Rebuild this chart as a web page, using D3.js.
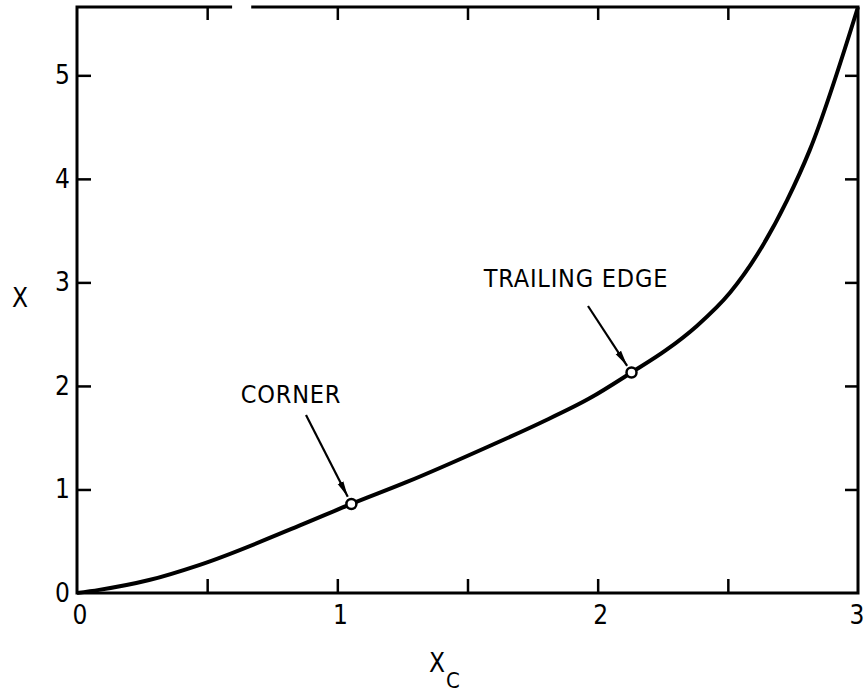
<!DOCTYPE html>
<html>
<head>
<meta charset="utf-8">
<script src="https://cdn.jsdelivr.net/npm/d3@7"></script>
<style>
  html, body { margin: 0; padding: 0; background: #fff; }
  svg text { font-family: "Liberation Sans Narrow", "DejaVu Sans Condensed", "Roboto Condensed", sans-serif; fill: #000; }
</style>
</head>
<body>
<svg id="chart" width="866" height="694"></svg>
<script>
// Curve X versus X_C
const xcValues = [0, 0.085, 0.277, 0.469, 0.854, 1.054, 1.265, 1.585, 1.777, 1.969, 2.13, 2.265, 2.381, 2.508, 2.623, 2.727, 2.815, 3.0];
const xValues  = [0, 0.03, 0.125, 0.27, 0.65, 0.86, 1.07, 1.42, 1.64, 1.88, 2.13, 2.35, 2.58, 2.90, 3.31, 3.79, 4.28, 5.66];

// Marked points on the curve
const markerNames = ["CORNER", "TRAILING EDGE"];
const markerXc = [1.054, 2.13];
const markerX  = [0.86, 2.13];

// Tick values and labels
const xTickValues = [0.5, 1, 1.5, 2, 2.5];
const xTickLabels = [0, 1, 2, 3];
const yTickValues = [1, 2, 3, 4, 5];
const yTickLabels = [0, 1, 2, 3, 4, 5];

const svg = d3.select("#chart");
const plotL = 77, plotR = 858, plotT = 7, plotB = 593;

const x = d3.scaleLinear().domain([0, 3]).range([plotL, plotR]);
const y = d3.scaleLinear().domain([0, 5.66]).range([plotB, plotT]);

const ink = "#000";

// Inward ticks on all four sides
svg.append("g").attr("transform", `translate(0,${plotB})`)
  .call(d3.axisBottom(x).tickValues(xTickValues).tickSize(-14).tickFormat(""))
  .call(g => g.select(".domain").remove());
svg.append("g").attr("transform", `translate(0,${plotT})`)
  .call(d3.axisTop(x).tickValues(xTickValues).tickSize(-13).tickFormat(""))
  .call(g => g.select(".domain").remove());
svg.append("g").attr("transform", `translate(${plotL},0)`)
  .call(d3.axisLeft(y).tickValues(yTickValues).tickSize(-14).tickFormat(""))
  .call(g => g.select(".domain").remove());
svg.append("g").attr("transform", `translate(${plotR},0)`)
  .call(d3.axisRight(y).tickValues(yTickValues).tickSize(-13).tickFormat(""))
  .call(g => g.select(".domain").remove());
svg.selectAll(".tick line").attr("stroke", ink).attr("stroke-width", 2.5);

// Frame (the top edge is broken just right of the first top tick)
const frame = svg.append("g").attr("stroke", ink).attr("stroke-width", 3).attr("fill", "none").attr("stroke-linecap", "square");
frame.append("path").attr("d", `M${x(0.59)},${plotT} H${plotL} V${plotB} H${plotR} V${plotT} H${x(0.675)}`);

// Tick labels
svg.append("g").selectAll("text").data(xTickLabels).join("text")
  .attr("x", d => d === 3 ? x(d) - 1 : x(d) + 3).attr("y", plotB + 31)
  .attr("text-anchor", "middle").attr("font-size", 26)
  .text(d => d);
svg.append("g").selectAll("text").data(yTickLabels).join("text")
  .attr("x", plotL - 7).attr("y", d => y(d) + 9)
  .attr("text-anchor", "end").attr("font-size", 26)
  .text(d => d);

// Axis titles
svg.append("text").attr("x", 20).attr("y", 307).attr("text-anchor", "middle").attr("font-size", 26).text("X");
const xt = svg.append("text").attr("x", 429).attr("y", 672).attr("font-size", 26);
xt.append("tspan").text("X");
xt.append("tspan").attr("dx", 1).attr("dy", 16).attr("font-size", 22).text("C");

// The curve
const pts = xcValues.map((v, i) => [v, xValues[i]]);
svg.append("path").datum(pts)
  .attr("fill", "none").attr("stroke", ink).attr("stroke-width", 4).attr("stroke-linejoin", "round")
  .attr("d", d3.line().x(d => x(d[0])).y(d => y(d[1])).curve(d3.curveMonotoneX));

// Arrowhead marker
svg.append("defs").append("marker")
  .attr("id", "arrow").attr("markerUnits", "userSpaceOnUse")
  .attr("viewBox", "0 -4 16 8").attr("refX", 16).attr("refY", 0)
  .attr("markerWidth", 16).attr("markerHeight", 8).attr("orient", "auto")
  .append("path").attr("d", "M0,-3.2 L16,0 L0,3.2 Z").attr("fill", ink);

// Annotation labels, arrows and circles
const notes = [
  { tx: 291, ty: 403, from: [306, 415], gap: 8 },
  { tx: 576, ty: 287, from: [588, 306], gap: 8 }
];
notes.forEach((n, i) => {
  const px = x(markerXc[i]), py = y(markerX[i]);
  svg.append("text").attr("x", n.tx).attr("y", n.ty).attr("text-anchor", "middle")
    .attr("font-size", 25).attr("letter-spacing", 0.8).text(markerNames[i]);
  const dx = px - n.from[0], dy = py - n.from[1], len = Math.hypot(dx, dy);
  const ex = px - dx / len * n.gap, ey = py - dy / len * n.gap;
  svg.append("line").attr("x1", n.from[0]).attr("y1", n.from[1]).attr("x2", ex).attr("y2", ey)
    .attr("stroke", ink).attr("stroke-width", 2.2).attr("marker-end", "url(#arrow)");
  svg.append("circle").attr("cx", px).attr("cy", py).attr("r", 5)
    .attr("fill", "#fff").attr("stroke", ink).attr("stroke-width", 2.5);
});
</script>
</body>
</html>
